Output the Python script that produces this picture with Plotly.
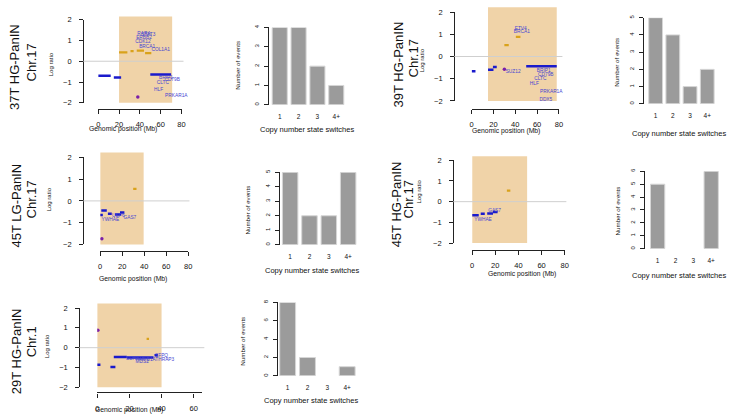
import plotly.graph_objects as go

W, H = 738, 420

switch_labels = ["1", "2", "3", "4+"]

# ---- 37T HG-PanIN, chr17 ----
t37_region = [20, 71]
t37_loss_start = [0, 15, 50]
t37_loss_end = [12, 22, 70]
t37_loss_val = [-0.70, -0.78, -0.64]
t37_gain_start = [20, 31, 37, 45]
t37_gain_end = [28, 34, 44, 51]
t37_gain_val = [0.43, 0.49, 0.51, 0.39]
t37_point_x = [38]
t37_point_y = [-1.72]
t37_genes = ["RARA", "STAT3", "ERBB2", "CDK12", "BRCA1", "COL1A1",
             "BRIP1", "CD79B", "CLTC", "HLF", "PRKAR1A", "DDX5", "MSI2"]
t37_gene_x = [44, 48, 44, 43, 47, 60, 65, 71, 62, 58, 75, 70, 59]
t37_gene_y = [1.34, 1.25, 1.12, 0.92, 0.71, 0.56,
              -0.78, -0.89, -1.06, -1.36, -1.64, -2.05, -2.63]
t37_switches = [4, 4, 2, 1]

# ---- 39T HG-PanIN, chr17 ----
t39_region = [15, 78]
t39_loss_start = [0, 15, 19.5, 50]
t39_loss_end = [3.5, 20, 23, 78]
t39_loss_val = [-0.66, -0.60, -0.47, -0.44]
t39_gain_start = [30, 40.5]
t39_gain_end = [34, 44.7]
t39_gain_val = [0.51, 0.88]
t39_point_x = [30]
t39_point_y = [-0.58]
t39_genes = ["ETV4", "BRCA1", "SUZ12", "BRIP1", "CD79B", "CANT1",
             "CLTC", "HLF", "PRKAR1A", "DDX5", "MSI2"]
t39_gene_x = [45, 46, 38, 66, 68, 85, 63, 57.5, 73, 68, 60.5]
t39_gene_y = [1.27, 1.11, -0.69, -0.63, -0.82, -0.75,
              -1.02, -1.25, -1.57, -1.94, -2.70]
t39_switches = [5, 4, 1, 2]

# ---- 45T LG-PanIN, chr17 ----
t45lg_region = [0, 39.5]
t45lg_loss_start = [0, 1, 7, 13.5, 18]
t45lg_loss_end = [2.4, 6, 10.5, 19, 22]
t45lg_loss_val = [-0.65, -0.44, -0.59, -0.63, -0.53]
t45lg_gain_start = [30]
t45lg_gain_end = [33]
t45lg_gain_val = [0.55]
t45lg_point_x = [1.5]
t45lg_point_y = [-1.74]
t45lg_genes = ["YWHAE", "USP6", "GAS7"]
t45lg_gene_x = [9.3, 16.5, 27]
t45lg_gene_y = [-0.86, -0.67, -0.77]
t45lg_switches = [5, 2, 2, 5]

# ---- 45T HG-PanIN, chr17 ----
t45hg_region = [0, 47.5]
t45hg_loss_start = [0, 7.4, 13, 18]
t45hg_loss_end = [5.7, 10.9, 18, 22]
t45hg_loss_val = [-0.65, -0.58, -0.57, -0.50]
t45hg_gain_start = [30]
t45hg_gain_end = [33]
t45hg_gain_val = [0.53]
t45hg_point_x = []
t45hg_point_y = []
t45hg_genes = ["GAS7", "YWHAE"]
t45hg_gene_x = [19.4, 9.4]
t45hg_gene_y = [-0.46, -0.88]
t45hg_switches = [5, 0, 0, 6]

# ---- 29T HG-PanIN, chr1 ----
t29_region = [0, 40]
t29_loss_start = [0, 8.2, 10.3, 18.4, 35.6]
t29_loss_end = [2, 11.3, 18.4, 35, 37.7]
t29_loss_val = [-0.86, -0.98, -0.47, -0.50, -0.38]
t29_gain_start = [30.7]
t29_gain_end = [32.2]
t29_gain_val = [0.44]
t29_point_x = [0.4]
t29_point_y = [0.88]
t29_genes = ["SDHB", "MDS2", "ARID1A", "SFPQ", "THRAP3"]
t29_gene_x = [22, 28, 31, 40, 42]
t29_gene_y = [-0.57, -0.73, -0.62, -0.42, -0.62]
t29_switches = [8, 2, 0, 1]

BLUE = "#1a1acc"
ORANGE = "#d9a21b"
PURPLE = "#7a1fa8"
GENE_BLUE = "#4646d2"
REGION = "#f0d3a8"
AXIS = "#222222"
FONT = "Liberation Sans, Arial, sans-serif"


def px(v):
    return v / W


def py(v):
    return 1 - v / H


def seg_xy(starts, ends, vals):
    xs, ys = [], []
    for s, e, v in zip(starts, ends, vals):
        xs += [s, e, None]
        ys += [v, v, None]
    return xs, ys


fig = go.Figure()


def ax_names(n):
    s = "" if n == 1 else str(n)
    return "x" + s, "y" + s, "xaxis" + s, "yaxis" + s


def cn_panel(n, g, region, ls, le, lv, gs, ge, gv, ptx, pty, genes, gx, gy):
    xr, yr, xk, yk = ax_names(n)
    bx, by = seg_xy(ls, le, lv)
    fig.add_trace(go.Scatter(x=bx, y=by, mode="lines", xaxis=xr, yaxis=yr,
                             line=dict(color=BLUE, width=2.5), hoverinfo="skip"))
    ox, oy = seg_xy(gs, ge, gv)
    fig.add_trace(go.Scatter(x=ox, y=oy, mode="lines", xaxis=xr, yaxis=yr,
                             line=dict(color=ORANGE, width=2.2), hoverinfo="skip"))
    if ptx:
        fig.add_trace(go.Scatter(x=ptx, y=pty, mode="markers", xaxis=xr, yaxis=yr,
                                 marker=dict(color=PURPLE, size=3.5), hoverinfo="skip"))
    fig.add_trace(go.Scatter(x=gx, y=gy, text=genes, mode="text", xaxis=xr, yaxis=yr,
                             textfont=dict(color=GENE_BLUE, size=4.8, family=FONT),
                             cliponaxis=False, hoverinfo="skip"))
    xend = g["x0"] + g["xmax"] * g["ppm"]
    fig.update_layout({
        xk: dict(domain=[px(g["x0"]), px(xend)], range=[0, g["xmax"]],
                 anchor="free", position=py(g["xline"]), showline=True,
                 linecolor=AXIS, linewidth=1.3, ticks="outside", ticklen=4,
                 tickcolor=AXIS, tickwidth=1.3, tickvals=g["ticks"],
                 showgrid=False, zeroline=False, ticklabelstandoff=4,
                 tickfont=dict(size=7.5, color="#111", family=FONT)),
        yk: dict(domain=[py(g["ym2"]), py(g["y2"])], range=[-2, 2],
                 anchor="free", position=px(g["yx"]), showline=True,
                 linecolor=AXIS, linewidth=1.3, ticks="outside", ticklen=4,
                 tickcolor=AXIS, tickwidth=1.3, tickvals=[-2, -1, 0, 1, 2],
                 showgrid=False, zeroline=False, ticklabelstandoff=6,
                 tickfont=dict(size=7.5, color="#111", family=FONT)),
    })
    fig.add_shape(type="rect", xref=xr, yref=yr + " domain",
                  x0=region[0], x1=region[1], y0=0, y1=(g["top"] + 2) / 4,
                  fillcolor=REGION, line_width=0, layer="below")
    fig.add_shape(type="line", xref="paper", yref=yr, x0=px(g["yx"]), x1=px(g["zr"]),
                  y0=0, y1=0, line=dict(color="#cfcfcf", width=1), layer="above")


def bar_panel(n, g, vals):
    xr, yr, xk, yk = ax_names(n)
    # empty classes are left blank, as in the original barplot
    shown = [v if v else None for v in vals]
    fig.add_trace(go.Bar(x=switch_labels, y=shown, xaxis=xr, yaxis=yr,
                         marker=dict(color="#9b9b9b", line=dict(color="#d6d6d6", width=1)),
                         hoverinfo="skip"))
    fig.update_layout({
        xk: dict(domain=[px(g["xl"]), px(g["xr"])], type="category",
                 range=[-0.5, 3.5], anchor=yr, showline=False, ticks="",
                 showgrid=False, zeroline=False, ticklabelstandoff=7,
                 tickfont=dict(size=6.5, color="#111", family=FONT)),
        yk: dict(domain=[py(g["y0"]), py(g["ytop"])], range=[0, g["ymax"]],
                 anchor="free", position=px(g["yx"]), showline=True,
                 linecolor=AXIS, linewidth=1.2, ticks="outside", ticklen=4,
                 tickcolor=AXIS, tickwidth=1.2, dtick=g["dtick"], tick0=0,
                 tickangle=-90, showgrid=False, zeroline=False, ticklabelstandoff=2,
                 tickfont=dict(size=6, color="#111", family=FONT)),
    })


cn_panel(1, dict(yx=82, y2=16, ym2=101, x0=97, ppm=1.05, xmax=80, xline=107, zr=183,
                 top=2.15, ticks=[0, 20, 40, 60, 80]),
         t37_region, t37_loss_start, t37_loss_end, t37_loss_val,
         t37_gain_start, t37_gain_end, t37_gain_val, t37_point_x, t37_point_y,
         t37_genes, t37_gene_x, t37_gene_y)
cn_panel(3, dict(yx=456, y2=8.3, ym2=99, x0=473.5, ppm=1.1, xmax=80, xline=107, zr=565,
                 top=2.22, ticks=[0, 20, 40, 60, 80]),
         t39_region, t39_loss_start, t39_loss_end, t39_loss_val,
         t39_gain_start, t39_gain_end, t39_gain_val, t39_point_x, t39_point_y,
         t39_genes, t39_gene_x, t39_gene_y)
cn_panel(5, dict(yx=82, y2=156.7, ym2=245.7, x0=99, ppm=1.109, xmax=80, xline=252.3, zr=189,
                 top=2.22, ticks=[0, 20, 40, 60, 80]),
         t45lg_region, t45lg_loss_start, t45lg_loss_end, t45lg_loss_val,
         t45lg_gain_start, t45lg_gain_end, t45lg_gain_val, t45lg_point_x, t45lg_point_y,
         t45lg_genes, t45lg_gene_x, t45lg_gene_y)
cn_panel(7, dict(yx=455, y2=159.7, ym2=244.3, x0=474, ppm=1.167, xmax=80, xline=251, zr=569,
                 top=2.19, ticks=[0, 20, 40, 60, 80]),
         t45hg_region, t45hg_loss_start, t45hg_loss_end, t45hg_loss_val,
         t45hg_gain_start, t45hg_gain_end, t45hg_gain_val, t45hg_point_x, t45hg_point_y,
         t45hg_genes, t45hg_gene_x, t45hg_gene_y)
cn_panel(9, dict(yx=78, y2=310.7, ym2=391.7, x0=96, ppm=1.622, xmax=65, xline=397, zr=204,
                 top=2.23, ticks=[0, 20, 40, 60]),
         t29_region, t29_loss_start, t29_loss_end, t29_loss_val,
         t29_gain_start, t29_gain_end, t29_gain_val, t29_point_x, t29_point_y,
         t29_genes, t29_gene_x, t29_gene_y)

bar_panel(2, dict(yx=268, y0=103, ytop=24, ymax=4, dtick=1, xl=270.5, xr=346.5), t37_switches)
bar_panel(4, dict(yx=646, y0=102, ytop=14, ymax=5, dtick=1, xl=650.3, xr=719.7), t39_switches)
bar_panel(6, dict(yx=279, y0=246, ytop=172, ymax=5, dtick=1, xl=280.75, xr=358.75), t45lg_switches)
bar_panel(8, dict(yx=647, y0=250, ytop=171, ymax=6, dtick=1, xl=652, xr=724), t45hg_switches)
bar_panel(10, dict(yx=277, y0=380, ytop=305, ymax=8, dtick=2, xl=278, xr=358), t29_switches)


def note(text, x, y, size, angle=0):
    fig.add_annotation(text=text, x=px(x), y=py(y), xref="paper", yref="paper",
                       showarrow=False, textangle=angle, align="center",
                       xanchor="center", yanchor="middle",
                       font=dict(size=size, color="#111", family=FONT))


# sample name and chromosome, two rotated lines per row
for name, chrom, x1, x2, cy1, cy2 in [
        ("37T HG-PanIN", "Chr.17", 12.5, 30, 64, 60),
        ("39T HG-PanIN", "Chr.17", 400, 415, 62, 56),
        ("45T LG-PanIN", "Chr.17", 15, 30, 206, 200),
        ("45T HG-PanIN", "Chr.17", 398, 410, 205, 200),
        ("29T HG-PanIN", "Chr.1", 15, 30, 355, 345)]:
    note(name, x1, cy1, 13, -90)
    note(chrom, x2, cy2, 13, -90)

for cx, cy in [(49, 62), (423, 58), (47, 200), (420, 192), (45, 350)]:
    note("Log ratio", cx, cy, 6, -90)

for cx, cy in [(122, 128), (508, 130), (132, 281), (524, 276), (128, 415)]:
    note("Genomic position (Mb)", cx, cy, 6.8)

for cx, cy in [(238, 63), (620, 59), (248, 210), (621, 211), (243, 345)]:
    note("Number of events", cx, cy, 6.2, -90)

for cx, cy in [(308, 128), (683, 132), (313, 272), (683, 277), (312, 405)]:
    note("Copy number state switches", cx, cy, 7.5)

fig.update_layout(width=W, height=H, margin=dict(l=0, r=0, t=0, b=0),
                  paper_bgcolor="white", plot_bgcolor="rgba(0,0,0,0)",
                  showlegend=False, font=dict(family=FONT))

# the page's default body margin would shift the figure by 8px
fig.write_html("out.html", config={"displayModeBar": False},
               post_script="document.body.style.margin='0';")
